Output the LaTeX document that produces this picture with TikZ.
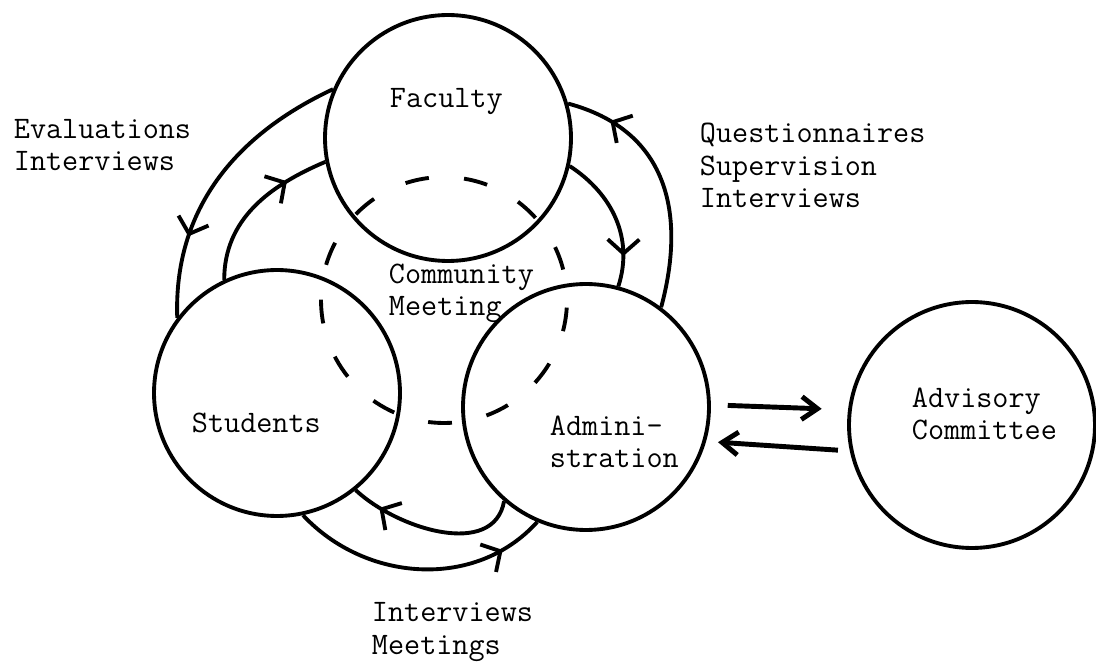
\documentclass[tikz,border=0pt]{standalone}
\usepackage{tikz}
\usetikzlibrary{arrows.meta, decorations.markings}

\begin{document}
\begin{tikzpicture}[x=0.02cm, y=0.02cm, line width=2.2pt,
  group/.style={circle, draw, inner sep=0pt, minimum size=4.92cm},
  words/.style={align=left, anchor=base west, inner sep=0pt,
    font=\fontsize{17.8}{18.5}\selectfont\ttfamily},
  mid/.style={postaction={decorate, decoration={markings,
    mark=at position #1 with {\arrow{Straight Barb[length=8pt,width=18pt]}}}}},
  link/.style={line width=2.8pt, -{Straight Barb[length=9pt,width=13pt]}}]

  \useasboundingbox (0,0) rectangle (1096,-665);

  \node[group] (F) at (448,-138) {};
  \node[group] (S) at (277,-393) {};
  \node[group] (A) at (586,-407) {};
  \node[group] (V) at (972,-425) {};
  \node[group, dash pattern=on 13.6pt off 20.1pt, dash phase=16.2pt] (C) at (444,-300) {};

  % base anchors sit on the last line
  \node[words] (F-text) at (388,-108) {Faculty};
  \node[words] (S-text) at (190,-433) {Students};
  \node[words] (A-text) at (548,-468) {Admini-\\stration};
  \node[words] (V-text) at (910,-440) {Advisory\\Committee};
  \node[words] (C-text) at (387,-316) {Community\\Meeting};

  \node[words] (eval) at (12,-171) {Evaluations\\Interviews};
  \node[words] (quest) at (698,-208) {Questionnaires\\Supervision\\Interviews};
  \node[words] (meet) at (370,-654) {Interviews\\Meetings};

  \path
    (F.157) edge[out=205, in=92, mid=0.72] (S.143)
    (S.115) edge[out=90, in=203, mid=0.74] (F.191)
    (A.53) edge[out=75, in=-15, looseness=1.15, mid=0.82] (F.16)
    (F.-13) edge[out=-33, in=72, mid=0.78] (A.75)
    (A.229) edge[out=260, in=317, mid=0.83] (S.309)
    (S.282) edge[out=313, in=228, mid=0.83] (A.247);

  \path
    (A.1) edge[link, shorten <=9.6pt, shorten >=15pt] (V.173)
    (V.192) edge[link, shorten <=6.8pt, shorten >=6.8pt] (A.-16); % two-way with the committee
\end{tikzpicture}
\end{document}
